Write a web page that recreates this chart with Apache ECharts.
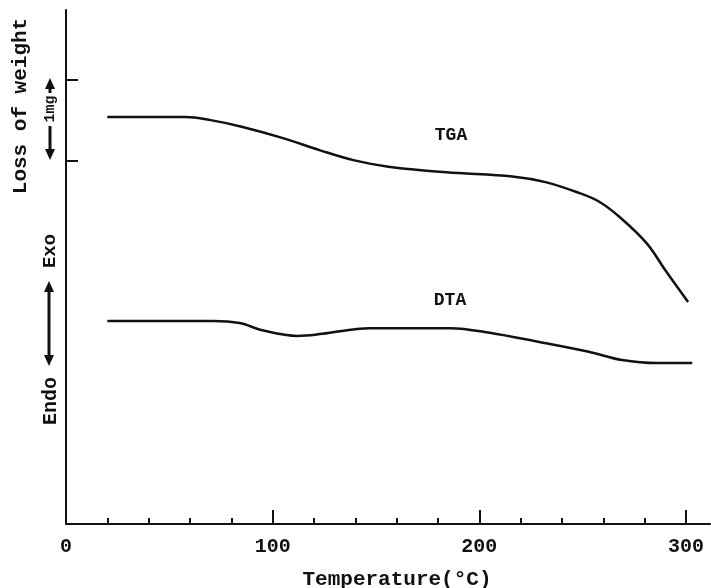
<!DOCTYPE html>
<html>
<head>
<meta charset="utf-8">
<script src="https://cdn.jsdelivr.net/npm/echarts@6/dist/echarts.min.js"></script>
<style>
html, body { margin: 0; padding: 0; background: #fff; }
#main { width: 711px; height: 588px; }
</style>
</head>
<body>
<div id="main"></div>
<script>
// TGA curve: temperature (°C) vs sample weight (mg, relative)
var tgaTemp   = [20, 40, 58, 70, 85, 105, 123, 139, 156, 184, 216, 232, 248, 258, 268, 281, 290, 301];
var tgaWeight = [4.99, 4.99, 4.99, 4.95, 4.87, 4.73, 4.58, 4.46, 4.38, 4.31, 4.26, 4.19, 4.06, 3.95, 3.76, 3.44, 3.11, 2.72];

// DTA curve: temperature (°C) vs signal (arbitrary units)
var dtaTemp   = [20, 45, 71, 84, 95, 112, 124, 147, 162, 186, 205, 229, 253, 269, 286, 303];
var dtaSignal = [39.5, 39.5, 39.5, 39.1, 37.7, 36.6, 37.0, 38.1, 38.1, 38.1, 37.2, 35.4, 33.5, 31.9, 31.3, 31.3];

var xLabelValues = [0, 100, 200, 300];
var xMajorTicks = [100, 200, 300];
var xMinorTicks = [20, 40, 60, 80, 120, 140, 160, 180, 220, 240, 260, 280];
var weightTicks = [4.45, 5.45]; // 1 mg apart

var mono = '"Liberation Mono", "DejaVu Sans Mono", monospace';

function pairs(xs, ys) {
  var out = [];
  for (var i = 0; i < xs.length; i++) out.push([xs[i], ys[i]]);
  return out;
}

// vertical arrow: from y1 to y2 at x, heads at the given ends
function arrow(x, y1, y2, headTop, headBottom) {
  var h = 10, w = 5;
  var items = [{
    type: 'line',
    shape: { x1: x, y1: headTop ? y1 + h : y1, x2: x, y2: headBottom ? y2 - h : y2 },
    style: { stroke: '#111', lineWidth: 3 }
  }];
  if (headTop) items.push({
    type: 'polygon',
    shape: { points: [[x, y1], [x - w, y1 + h + 1], [x + w, y1 + h + 1]] },
    style: { fill: '#111' }
  });
  if (headBottom) items.push({
    type: 'polygon',
    shape: { points: [[x, y2], [x - w, y2 - h - 1], [x + w, y2 - h - 1]] },
    style: { fill: '#111' }
  });
  return items;
}

function vText(text, x, y, size) {
  return {
    type: 'text', x: x, y: y, rotation: Math.PI / 2,
    style: {
      text: text, fill: '#111', font: 'bold ' + size + 'px ' + mono,
      align: 'center', verticalAlign: 'middle',
      textAlign: 'center', textVerticalAlign: 'middle'
    }
  };
}

function hText(text, x, y, size) {
  return {
    type: 'text', x: x, y: y,
    style: {
      text: text, fill: '#111', font: 'bold ' + size + 'px ' + mono,
      align: 'center', verticalAlign: 'middle',
      textAlign: 'center', textVerticalAlign: 'middle'
    }
  };
}

var chart = echarts.init(document.getElementById('main'));

var annotations = [
  vText('Loss of weight', 21, 106, 21),
  vText('1mg', 50, 109, 15),
  vText('Exo', 50, 251, 19),
  vText('Endo', 51, 401, 20),
  hText('TGA', 451, 135, 18),
  hText('DTA', 450, 300, 18)
].concat(arrow(50, 78, 93, true, false))
 .concat(arrow(50, 126, 160, false, true))
 .concat(arrow(49, 281, 366, true, true));

chart.setOption({
  backgroundColor: '#fff',
  animation: false,
  grid: { left: 66, right: 1, top: 10, bottom: 64, outerBoundsMode: 'none' },
  xAxis: [{
    type: 'value',
    min: 0,
    max: 311.6,
    name: 'Temperature(°C)',
    nameLocation: 'middle',
    nameGap: 45,
    nameTextStyle: { color: '#111', fontFamily: mono, fontSize: 21, fontWeight: 'bold', padding: [0, 0, 0, 18] },
    splitLine: { show: false },
    axisLine: { lineStyle: { color: '#111', width: 2 } },
    axisTick: { inside: true, length: 6, customValues: xMinorTicks, lineStyle: { color: '#111', width: 2 } },
    axisLabel: { customValues: xLabelValues, margin: 13, color: '#111', fontFamily: mono, fontSize: 20, fontWeight: 'bold' }
  }, {
    type: 'value',
    min: 0,
    max: 311.6,
    position: 'bottom',
    splitLine: { show: false },
    axisLine: { show: false },
    axisLabel: { show: false },
    axisTick: { inside: true, length: 14, customValues: xMajorTicks, lineStyle: { color: '#111', width: 2 } }
  }],
  yAxis: [{
    type: 'value',
    min: 0,
    max: 6.3,
    splitLine: { show: false },
    axisLine: { show: true, lineStyle: { color: '#111', width: 2 } },
    axisTick: { inside: true, length: 12, customValues: weightTicks, lineStyle: { color: '#111', width: 2 } },
    axisLabel: { show: false }
  }, {
    type: 'value',
    min: 0,
    max: 100,
    show: false
  }],
  graphic: annotations,
  series: [{
    name: 'TGA',
    type: 'line',
    xAxisIndex: 0,
    yAxisIndex: 0,
    smooth: 0.35,
    showSymbol: false,
    lineStyle: { color: '#111', width: 2.5 },
    data: pairs(tgaTemp, tgaWeight)
  }, {
    name: 'DTA',
    type: 'line',
    xAxisIndex: 0,
    yAxisIndex: 1,
    smooth: 0.35,
    showSymbol: false,
    lineStyle: { color: '#111', width: 2.5 },
    data: pairs(dtaTemp, dtaSignal)
  }]
});
</script>
</body>
</html>
